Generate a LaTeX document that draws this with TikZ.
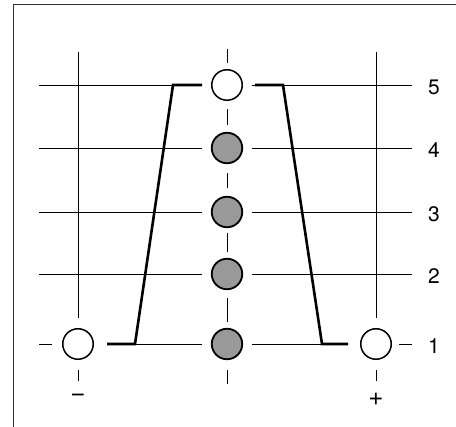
\documentclass[tikz,border=0pt]{standalone}
\usepackage{fontspec}
\setmainfont{TeX Gyre Heros}
\begin{document}
\begin{tikzpicture}[x=1pt,y=-1pt,
  thin line/.style={line width=0.8pt,black},
  thick line/.style={line width=2.6pt,black,line join=miter},
  opencirc/.style={circle,draw=black,line width=1.5pt,fill=white,minimum size=30.5pt,inner sep=0pt},
  fullcirc/.style={circle,draw=black,line width=1.8pt,fill=black!40,minimum size=30.5pt,inner sep=0pt},
  lbl/.style={font=\fontsize{21pt}{25pt}\selectfont,inner sep=0pt},
  sign/.style={font=\fontsize{26pt}{30pt}\selectfont,inner sep=0pt}]
\useasboundingbox (0,0) rectangle (456,427);
% frame (only top and left edges visible)
\draw[line width=1pt,black!80] (13,427) -- (13,5) -- (456,5);
% rows 2-5
\foreach \y in {85,148,212,274}{
  \draw[thin line] (39,\y) -- (202,\y);
  \draw[thin line] (252,\y) -- (412,\y);
}
% row 1
\draw[thin line] (39,344) -- (52,344);
\draw[thin line] (135,344) -- (202,344);
\draw[thin line] (252,344) -- (322,344);
\draw[thin line] (399,344) -- (412,344);
% side verticals
\draw[thin line] (78,52) -- (78,318);
\draw[thin line] (78,370) -- (78,381);
\draw[thin line] (376,52) -- (376,318);
\draw[thin line] (376,370) -- (376,381);
% center dashes
\foreach \a/\b in {49/63,109/125,173/188,233/252,298/322,370/384}{
  \draw[thin line] (227,\a) -- (227,\b);
}
% circles
\node[opencirc] (c5) at (227,85) {};
\node[fullcirc] (c4) at (227,148) {};
\node[fullcirc] (c3) at (227,212) {};
\node[fullcirc] (c2) at (227,274) {};
\node[fullcirc] (c1) at (227,344) {};
\node[opencirc] (cl) at (78,344) {};
\node[opencirc] (cr) at (376,344) {};
% thick profile
\draw[thick line] ([xshift=13pt]cl.east) -- (135,344) -- (173,85) -- ([xshift=-9pt]c5.west);
\draw[thick line] ([xshift=12pt]c5.east) -- (283,85) -- (322,344) -- ([xshift=-12pt]cr.west);
% labels
\node[lbl] (l5) at (434,87) {5};
\node[lbl] (l4) at (434,150) {4};
\node[lbl] (l3) at (434,214) {3};
\node[lbl] (l2) at (434,276) {2};
\node[lbl] (l1) at (434,346) {1};
\node[sign] (lm) at (78,398) {\char"2212};
\node[sign] (lp) at (376,399) {+};
\end{tikzpicture}
\end{document}
